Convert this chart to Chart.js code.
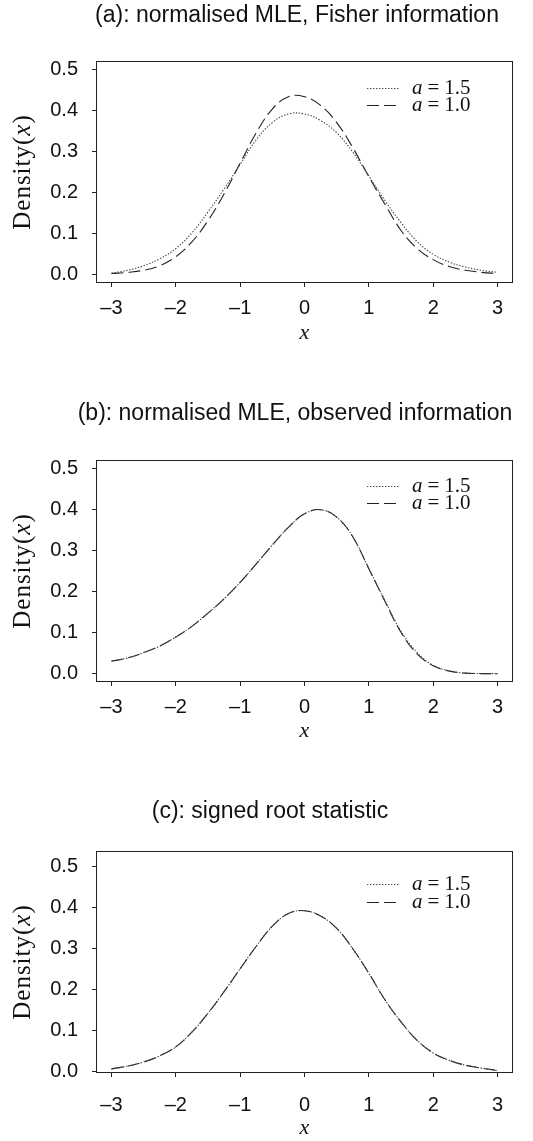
<!DOCTYPE html>
<html>
<head>
<meta charset="utf-8">
<script src="https://cdn.jsdelivr.net/npm/chart.js@4.4.1/dist/chart.umd.min.js"></script>
<style>
  html, body { margin: 0; padding: 0; background: #fff; overflow: hidden; }
  #wrap { position: relative; width: 533px; height: 1141px; }
  #wrap canvas { position: absolute; left: 0; }
</style>
</head>
<body>
<div id="wrap">
  <canvas id="panelA" width="533" height="380" style="top:0"></canvas>
  <canvas id="panelB" width="533" height="380" style="top:380px"></canvas>
  <canvas id="panelC" width="533" height="381" style="top:760px"></canvas>
</div>
<script>
// grid of x values the densities were read at
const xGrid = [-3, -2.75, -2.5, -2.25, -2, -1.75, -1.5, -1.25, -1, -0.75, -0.5, -0.25,
               0, 0.25, 0.5, 0.75, 1, 1.25, 1.5, 1.75, 2, 2.25, 2.5, 2.75, 3];

const xTicks = [-3, -2, -1, 0, 1, 2, 3];
const xTickLabels = ['\u20133', '\u20132', '\u20131', '0', '1', '2', '3'];
const yTicks = [0, 0.1, 0.2, 0.3, 0.4, 0.5];
const yTickLabels = ['0.0', '0.1', '0.2', '0.3', '0.4', '0.5'];

const seriesLabels = ['a = 1.5', 'a = 1.0'];
const panelTitles = [
  '(a): normalised MLE, Fisher information',
  '(b): normalised MLE, observed information',
  '(c): signed root statistic'
];

// (a) Fisher information
const fisherA15 = [0.003, 0.010, 0.021, 0.038, 0.063, 0.101, 0.152, 0.208, 0.268, 0.328, 0.370, 0.391,
                   0.391, 0.375, 0.345, 0.298, 0.240, 0.180, 0.126, 0.080, 0.049, 0.030, 0.018, 0.010, 0.005];
const fisherA10 = [0.002, 0.005, 0.010, 0.021, 0.043, 0.079, 0.131, 0.196, 0.271, 0.345, 0.403, 0.433,
                   0.433, 0.412, 0.370, 0.309, 0.238, 0.171, 0.107, 0.063, 0.036, 0.019, 0.010, 0.005, 0.002];

// (b) observed information
const observedA15 = [0.030, 0.038, 0.051, 0.067, 0.089, 0.115, 0.147, 0.182, 0.222, 0.267, 0.313, 0.356,
                     0.389, 0.399, 0.381, 0.333, 0.256, 0.178, 0.103, 0.051, 0.020, 0.007, 0.001, 0.000, 0.000];
const observedA10 = [0.030, 0.038, 0.051, 0.067, 0.089, 0.115, 0.147, 0.182, 0.222, 0.267, 0.313, 0.356,
                     0.389, 0.399, 0.381, 0.333, 0.255, 0.176, 0.100, 0.048, 0.019, 0.006, 0.001, 0.000, 0.000];

// (c) signed root
const signedRootA15 = [0.006, 0.013, 0.023, 0.038, 0.060, 0.096, 0.142, 0.195, 0.251, 0.306, 0.355, 0.386,
                       0.393, 0.380, 0.350, 0.300, 0.240, 0.175, 0.121, 0.076, 0.045, 0.027, 0.015, 0.008, 0.002];
const signedRootA10 = [0.006, 0.013, 0.023, 0.038, 0.060, 0.096, 0.142, 0.195, 0.251, 0.306, 0.355, 0.386,
                       0.393, 0.380, 0.350, 0.300, 0.240, 0.175, 0.121, 0.076, 0.045, 0.027, 0.015, 0.008, 0.002];

const SANS = '"Liberation Sans", Arial, Helvetica, sans-serif';
const SERIF = '"Liberation Serif", "Times New Roman", serif';

// frame, title, y label and legend drawn on the canvas
const panelDecor = {
  id: 'panelDecor',
  afterDraw(chart, args, opts) {
    const ctx = chart.ctx;
    const a = chart.chartArea;
    ctx.save();

    ctx.strokeStyle = '#222';
    ctx.lineWidth = 1;
    ctx.strokeRect(a.left + 0.5, a.top + 0.5, a.right - a.left - 1, a.bottom - a.top - 1);

    ctx.fillStyle = '#111';
    ctx.textBaseline = 'middle';
    ctx.textAlign = 'center';
    ctx.font = '23px ' + SANS;
    ctx.fillText(opts.title, opts.titleX, opts.titleY);

    // Density(x) with italic x
    ctx.save();
    ctx.translate(opts.yLabelX, (a.top + a.bottom) / 2);
    ctx.rotate(-Math.PI / 2);
    ctx.letterSpacing = '1px';
    ctx.textAlign = 'left';
    const parts = [['Density(', ''], ['x', 'italic '], [')', '']];
    let total = 0;
    parts.forEach(p => { ctx.font = p[1] + '25px ' + SERIF; total += ctx.measureText(p[0]).width; });
    let px = -total / 2;
    parts.forEach(p => {
      ctx.font = p[1] + '25px ' + SERIF;
      ctx.fillText(p[0], px, 0);
      px += ctx.measureText(p[0]).width;
    });
    ctx.restore();

    // legend
    chart.data.datasets.forEach((ds, i) => {
      const y = opts.legendY[i] + 0.5;
      ctx.save();
      ctx.strokeStyle = ds.borderColor;
      ctx.lineWidth = ds.borderWidth;
      ctx.setLineDash(ds.borderDash);
      ctx.beginPath();
      ctx.moveTo(opts.legendX, y);
      ctx.lineTo(opts.legendX + 33, y);
      ctx.stroke();
      ctx.restore();

      const [name, val] = ds.label.split('=').map(s => s.trim());
      let tx = opts.legendX + 45;
      ctx.textAlign = 'left';
      ctx.font = 'italic 21px ' + SERIF;
      ctx.fillText(name, tx, y);
      tx += ctx.measureText(name).width + 5;
      ctx.font = '21px ' + SERIF;
      ctx.fillText('=', tx, y);
      tx += ctx.measureText('=').width + 5;
      ctx.fillText(val, tx, y);
    });

    ctx.restore();
  }
};

function makePanel(canvasId, title, s15, s10, lay) {
  return new Chart(document.getElementById(canvasId), {
    type: 'line',
    data: {
      datasets: [
        {
          label: seriesLabels[0],
          data: xGrid.map((x, i) => ({ x: x, y: s15[i] })),
          borderColor: '#444',
          borderWidth: 1.1,
          borderDash: [1.4, 1.6],
        },
        {
          label: seriesLabels[1],
          data: xGrid.map((x, i) => ({ x: x, y: s10[i] })),
          borderColor: '#222',
          borderWidth: 1.1,
          borderDash: [12, 5],
        }
      ]
    },
    options: {
      responsive: false,
      animation: false,
      devicePixelRatio: 1,
      layout: { padding: { top: lay.top, right: 20, left: 0, bottom: 0 } },
      elements: {
        point: { radius: 0 },
        line: { tension: 0.4, fill: false }
      },
      plugins: {
        legend: { display: false },
        tooltip: { enabled: false },
        panelDecor: {
          title: title,
          titleX: lay.titleX,
          titleY: lay.titleY,
          yLabelX: 23,
          legendX: 367,
          legendY: lay.legendY,
        }
      },
      scales: {
        x: {
          type: 'linear',
          min: -3.24,
          max: 3.24,
          afterBuildTicks: (axis) => { axis.ticks = xTicks.map(v => ({ value: v })); },
          afterFit: (scale) => { scale.height = lay.xHeight; },
          border: { display: false },
          grid: { display: true, drawOnChartArea: false, drawTicks: true, tickLength: 4, color: '#222' },
          ticks: {
            autoSkip: false,
            maxRotation: 0,
            padding: lay.tickPad,
            color: '#111',
            font: { family: SANS, size: 20 },
            callback: (v) => xTickLabels[xTicks.indexOf(v)],
          },
          title: {
            display: true,
            text: 'x',
            color: '#111',
            font: { family: SERIF, size: 22, style: 'italic', lineHeight: 1 },
            padding: { top: 0, bottom: lay.xTitlePad },
          }
        },
        y: {
          type: 'linear',
          min: lay.ymin,
          max: lay.ymax,
          afterBuildTicks: (axis) => { axis.ticks = yTicks.map(v => ({ value: v })); },
          afterFit: (scale) => { scale.width = 96; },
          border: { display: false },
          grid: { display: true, drawOnChartArea: false, drawTicks: true, tickLength: 4, color: '#222' },
          ticks: {
            padding: 14,
            color: '#111',
            font: { family: SANS, size: 20 },
            callback: (v) => yTickLabels[yTicks.indexOf(v)],
          }
        }
      }
    },
    plugins: [panelDecor]
  });
}

makePanel('panelA', panelTitles[0], fisherA15, fisherA10, {
  top: 61, xHeight: 97, ymin: -0.021, ymax: 0.52, tickPad: 9, xTitlePad: 36,
  titleX: 297, titleY: 16, legendY: [88, 105]
});
makePanel('panelB', panelTitles[1], observedA15, observedA10, {
  top: 80, xHeight: 78, ymin: -0.0205, ymax: 0.52, tickPad: 9, xTitlePad: 18,
  titleX: 295, titleY: 34, legendY: [106, 123]
});
makePanel('panelC', panelTitles[2], signedRootA15, signedRootA10, {
  top: 91, xHeight: 68, ymin: -0.004, ymax: 0.539, tickPad: 16, xTitlePad: 2,
  titleX: 270, titleY: 52, legendY: [124, 142]
});
</script>
</body>
</html>
